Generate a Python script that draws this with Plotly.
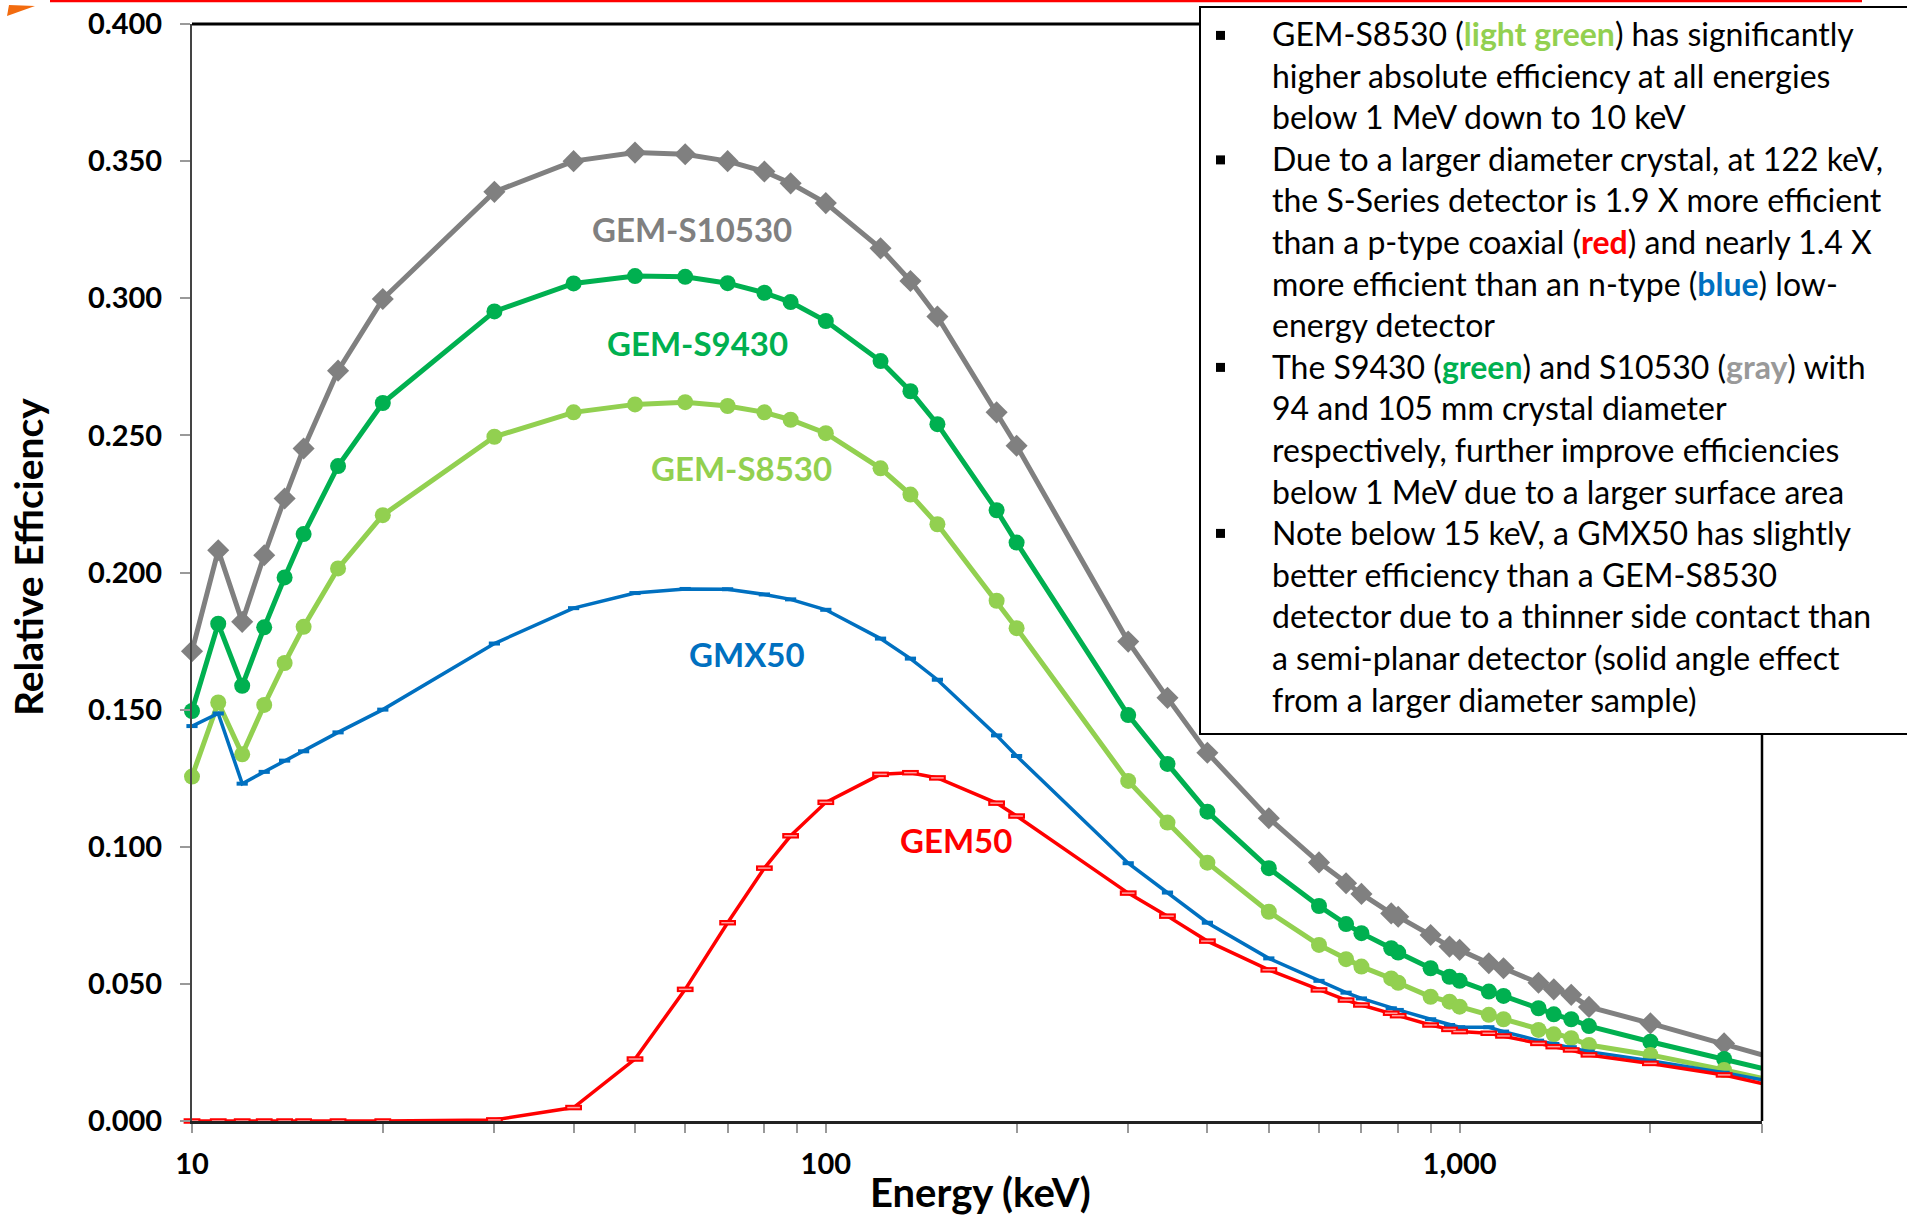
import plotly.graph_objects as go

# ---------------- data ----------------
energy = [10, 11, 12, 13, 14, 15, 17, 20, 30, 40, 50, 60, 70, 80, 88, 100, 122, 136, 150, 186, 200,
          300, 346, 400, 500, 600, 662, 700, 780, 800, 900, 964, 1000, 1112, 1173, 1332, 1408, 1500,
          1600, 2000, 2614, 3000]

gem_s10530 = [0.1713, 0.2081, 0.1820, 0.2063, 0.2270, 0.2452, 0.2736, 0.2997, 0.3388, 0.3500, 0.3531,
              0.3525, 0.3500, 0.3462, 0.3419, 0.3347, 0.3182, 0.3063, 0.2933, 0.2584, 0.2462,
              0.1748, 0.1543, 0.1343, 0.1104, 0.0943, 0.0867, 0.0828, 0.0757, 0.0745, 0.0678, 0.0636,
              0.0624, 0.0575, 0.0557, 0.0504, 0.0480, 0.0460, 0.0416, 0.0356, 0.0283, 0.0241]

gem_s9430 = [0.1495, 0.1813, 0.1587, 0.1800, 0.1982, 0.2140, 0.2388, 0.2618, 0.2952, 0.3054, 0.3081,
             0.3078, 0.3055, 0.3020, 0.2986, 0.2917, 0.2771, 0.2661, 0.2541, 0.2227, 0.2109,
             0.1480, 0.1302, 0.1128, 0.0922, 0.0784, 0.0718, 0.0685, 0.0630, 0.0614, 0.0557, 0.0526,
             0.0511, 0.0472, 0.0456, 0.0411, 0.0389, 0.0371, 0.0346, 0.0289, 0.0226, 0.0192]

gem_s8530 = [0.1256, 0.1526, 0.1337, 0.1517, 0.1670, 0.1802, 0.2015, 0.2209, 0.2495, 0.2584, 0.2613,
             0.2621, 0.2607, 0.2584, 0.2557, 0.2508, 0.2380, 0.2284, 0.2176, 0.1897, 0.1797,
             0.1240, 0.1088, 0.0942, 0.0763, 0.0642, 0.0590, 0.0563, 0.0520, 0.0504, 0.0453, 0.0435,
             0.0417, 0.0387, 0.0371, 0.0332, 0.0316, 0.0302, 0.0277, 0.0241, 0.0186, 0.0156]

gmx50 = [0.1440, 0.1486, 0.1230, 0.1273, 0.1314, 0.1348, 0.1417, 0.1500, 0.1741, 0.1870, 0.1925,
         0.1940, 0.1939, 0.1920, 0.1902, 0.1864, 0.1759, 0.1686, 0.1609, 0.1406, 0.1331,
         0.0940, 0.0833, 0.0723, 0.0593, 0.0511, 0.0468, 0.0447, 0.0411, 0.0405, 0.0371, 0.0350,
         0.0342, 0.0342, 0.0326, 0.0293, 0.0281, 0.0269, 0.0253, 0.0220, 0.0176, 0.0150]

gem50 = [0.0, 0.0, 0.0, 0.0, 0.0, 0.0, 0.0, 0.0, 0.0004, 0.0049, 0.0226, 0.0480, 0.0723, 0.0922,
         0.1040, 0.1162, 0.1264, 0.1270, 0.1251, 0.1159, 0.1112, 0.0831, 0.0747, 0.0656, 0.0551,
         0.0478, 0.0441, 0.0423, 0.0393, 0.0384, 0.0350, 0.0334, 0.0326, 0.0320, 0.0310, 0.0283,
         0.0271, 0.0259, 0.0241, 0.0210, 0.0168, 0.0137]

y_ticks = [0.0, 0.05, 0.10, 0.15, 0.20, 0.25, 0.30, 0.35, 0.40]
x_ticks = [10, 20, 30, 40, 50, 60, 70, 80, 90, 100, 200, 300, 400, 500, 600, 700, 800, 900, 1000, 2000, 3000]
x_tick_text = ["10", "", "", "", "", "", "", "", "", "100", "", "", "", "", "", "", "", "", "1,000", "", ""]

series_labels = ["GEM-S10530", "GEM-S9430", "GEM-S8530", "GMX50", "GEM50"]

note_lines = [
    'GEM-S8530 (<b><span style="color:#92D050">light green</span></b>) has significantly',
    'higher absolute efficiency at all energies',
    'below 1 MeV down to 10 keV',
    'Due to a larger diameter crystal, at 122 keV,',
    'the S-Series detector is 1.9 X more efficient',
    'than a p-type coaxial (<b><span style="color:#FF0000">red</span></b>) and nearly 1.4 X',
    'more efficient than an n-type (<b><span style="color:#0070C0">blue</span></b>) low-',
    'energy detector',
    'The S9430 (<b><span style="color:#00B050">green</span></b>) and S10530 (<b><span style="color:#999999">gray</span></b>) with',
    '94 and 105 mm crystal diameter',
    'respectively, further improve efficiencies',
    'below 1 MeV due to a larger surface area',
    'Note below 15 keV, a GMX50 has slightly',
    'better efficiency than a GEM-S8530',
    'detector due to a thinner side contact than',
    'a semi-planar detector (solid angle effect',
    'from a larger diameter sample)',
]
bullet_lines = [0, 3, 8, 12]

# ---------------- style ----------------
GRAY, GREEN, LGREEN, BLUE, RED = "#808080", "#00B050", "#92D050", "#0070C0", "#FF0000"
FONT = "Lato"
W, H = 1907, 1215
L, R, T, B = 192, 1762, 24, 1121


def px(x):
    return (x - L) / (R - L)


def py(y):
    return (B - y) / (B - T)


fig = go.Figure()

fig.add_trace(go.Scatter(x=energy, y=gem_s10530, mode="lines+markers", name=series_labels[0],
                         line=dict(color=GRAY, width=5),
                         marker=dict(symbol="diamond", size=17, color=GRAY), cliponaxis=False))
fig.add_trace(go.Scatter(x=energy, y=gem_s9430, mode="lines+markers", name=series_labels[1],
                         line=dict(color=GREEN, width=5),
                         marker=dict(symbol="circle", size=16, color=GREEN), cliponaxis=False))
fig.add_trace(go.Scatter(x=energy, y=gem_s8530, mode="lines+markers", name=series_labels[2],
                         line=dict(color=LGREEN, width=5),
                         marker=dict(symbol="circle", size=16, color=LGREEN), cliponaxis=False))
fig.add_trace(go.Scatter(x=energy, y=gmx50, mode="lines+markers", name=series_labels[3],
                         line=dict(color=BLUE, width=3.5),
                         marker=dict(symbol="line-ew", size=8, line=dict(color=BLUE, width=4)),
                         cliponaxis=False))
fig.add_trace(go.Scatter(x=energy, y=gem50, mode="lines+markers", name=series_labels[4],
                         line=dict(color=RED, width=3.5),
                         marker=dict(symbol="line-ew", size=12, line=dict(color=RED, width=5.5)),
                         cliponaxis=False))
fig.add_trace(go.Scatter(x=energy, y=gem50, mode="markers", name=series_labels[4] + " marker",
                         marker=dict(symbol="line-ew", size=9, line=dict(color="#FFA0A0", width=1.5)),
                         cliponaxis=False))

tickfont = dict(family=FONT, size=29, color="black", weight="bold")

fig.update_layout(
    width=W, height=H,
    margin=dict(l=L, r=W - R, t=T, b=H - B, pad=0, autoexpand=False),
    paper_bgcolor="white", plot_bgcolor="white",
    showlegend=False,
    font=dict(family=FONT, color="black"),
    xaxis=dict(type="log", range=[1, 3.4771], tickvals=x_ticks, ticktext=x_tick_text,
               ticks="outside", ticklen=9, tickwidth=1.5, tickcolor="#999999", automargin=False,
               showline=True, linecolor="#222222", linewidth=2.5, showgrid=False, zeroline=False,
               tickfont=tickfont, ticklabelstandoff=6),
    xaxis2=dict(type="log", range=[1, 3.4771], overlaying="x", anchor="y", side="bottom",
                tickvals=x_ticks, ticks="inside", ticklen=9, tickwidth=1.5, tickcolor="#999999",
                automargin=False,
                showticklabels=False, showline=False, showgrid=False, zeroline=False),
    yaxis=dict(range=[0, 0.4], tickvals=y_ticks, tickformat=".3f", automargin=False,
               ticks="outside", ticklen=10, tickwidth=1.5, tickcolor="#999999",
               showline=True, linecolor="#444444", linewidth=2, showgrid=False, zeroline=False,
               tickfont=tickfont, ticklabelstandoff=12),
)

shapes = []
# frame (top and right)
shapes.append(dict(type="line", xref="paper", yref="paper", x0=0, x1=1, y0=1, y1=1,
                   line=dict(color="black", width=3), layer="above"))
shapes.append(dict(type="line", xref="paper", yref="paper", x0=1, x1=1, y0=0, y1=1,
                   line=dict(color="black", width=2.5), layer="above"))
# note box
shapes.append(dict(type="rect", xref="paper", yref="paper", x0=px(1200), x1=px(1915), y0=py(734), y1=py(7),
                   line=dict(color="black", width=2), fillcolor="white", layer="above"))
# bullets
for i in bullet_lines:
    c = 35.4 + 41.5 * i
    shapes.append(dict(type="rect", xref="paper", yref="paper", x0=px(1216), x1=px(1225),
                       y0=py(c + 4.5), y1=py(c - 4.5), line=dict(width=0), fillcolor="black", layer="above"))
# slide decorations
shapes.append(dict(type="line", xref="paper", yref="paper", x0=px(50), x1=px(1862), y0=py(1), y1=py(1),
                   line=dict(color="#FF0000", width=2.5), layer="above"))
tri = "M {:.5f},{:.5f} L {:.5f},{:.5f} L {:.5f},{:.5f} Z".format(px(9), py(5), px(35), py(6), px(7), py(16))
shapes.append(dict(type="path", xref="paper", yref="paper", path=tri, fillcolor="#F26B0F",
                   line=dict(width=0), layer="above"))
fig.update_layout(shapes=shapes)

ann = []
label_pos = [(692, 229, GRAY), (697, 343, GREEN), (741, 468, LGREEN), (747, 654, BLUE), (956, 840, RED)]
for text, (x, y, col) in zip(series_labels, label_pos):
    ann.append(dict(x=px(x), y=py(y), xref="paper", yref="paper", text=text, showarrow=False,
                    xanchor="center", yanchor="middle",
                    font=dict(family=FONT, size=33, color=col, weight="bold")))
for i, line in enumerate(note_lines):
    ann.append(dict(x=px(1270), y=py(33.5 + 41.6 * i), xref="paper", yref="paper", text=line,
                    showarrow=False, xanchor="left", yanchor="middle",
                    font=dict(family=FONT, size=32, color="black")))
ann.append(dict(x=px(28), y=py(557), xref="paper", yref="paper", text="<b>Relative Efficiency</b>",
                showarrow=False, textangle=-90, xanchor="center", yanchor="middle",
                font=dict(family=FONT, size=39, color="black")))
ann.append(dict(x=px(980), y=py(1217), xref="paper", yref="paper", text="<b>Energy (keV)</b>",
                showarrow=False, xanchor="center", yanchor="bottom", borderpad=0,
                font=dict(family=FONT, size=40, color="black")))
fig.update_layout(annotations=ann)

fig.write_html("out.html")
